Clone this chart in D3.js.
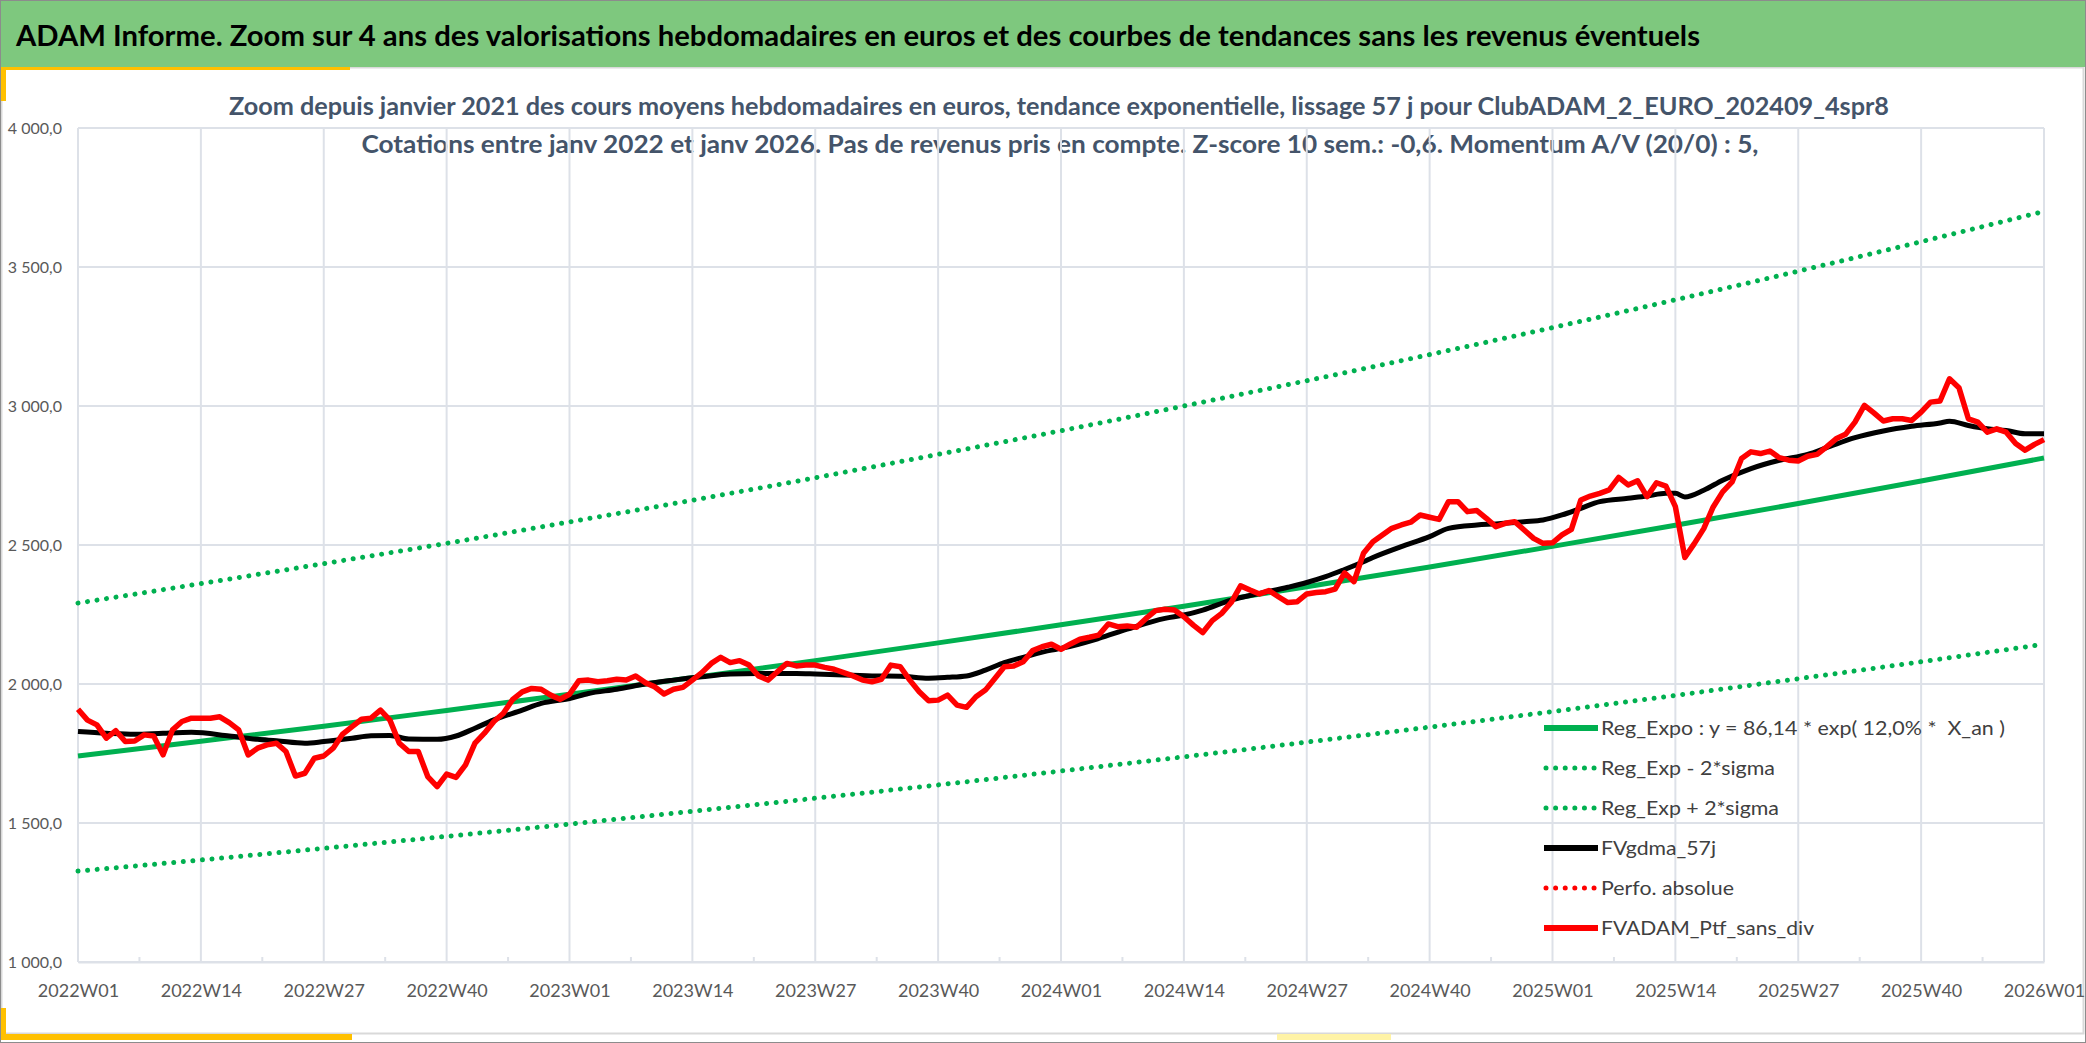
<!DOCTYPE html>
<html>
<head>
<meta charset="utf-8">
<script src="https://cdn.jsdelivr.net/npm/d3@7"></script>
<style>
body { margin: 0; background: #fff; }
svg text { font-family: Lato, "Open Sans", sans-serif; }
</style>
</head>
<body>
<div id="chart"></div>
<script>
var width = 2086;
var height = 1043;
var margin = {left: 78, right: 42, top: 128, bottom: 81};

// x axis labels, one every 13 weeks
const weekLabels = ["2022W01","2022W14","2022W27","2022W40","2023W01","2023W14","2023W27","2023W40",
  "2024W01","2024W14","2024W27","2024W40","2025W01","2025W14","2025W27","2025W40","2026W01"];
const yTicks = [1000, 1500, 2000, 2500, 3000, 3500, 4000];

// trend + bands, read at each gridline (week index)
const bandWeeks = [0,13,26,39,52,65,78,91,104,117,130,143,156,169,182,195,208];
const trendValues = [1741,1794,1848,1905,1963,2023,2084,2148,2213,2280,2350,2421,2495,2571,2649,2730,2813];
const lowerValues = [1327,1367,1409,1452,1496,1542,1589,1637,1687,1738,1791,1845,1901,1959,2019,2080,2143];
const upperValues = [2291,2361,2433,2506,2583,2661,2742,2826,2911,3000,3091,3185,3282,3382,3485,3591,3700];

// FVgdma_57j (smoothed)
const gdmaWeeks = [0,3,6,9,12,16,19,21,24,26,29,31,33,35,38,40,42,44,47,49,52,54,57,60,63,66,69,72,76,78,81,84,87,90,92,94,96,98,100,103,104,108,111,115,117,119,122,125,128,130,132,134,136,137,140,143,145,148,150,153,155,157,159,161,164,166,168,169,170,172,174,177,180,183,185,188,191,194,197,198,200,202,204,206,208];
const gdmaValues = [1829,1823,1819,1823,1826,1813,1801,1796,1787,1793,1805,1814,1815,1802,1801,1813,1841,1871,1906,1930,1948,1966,1981,2000,2014,2026,2036,2038,2038,2036,2032,2029,2028,2021,2024,2029,2050,2077,2096,2122,2128,2164,2197,2236,2248,2266,2302,2326,2348,2365,2386,2412,2440,2455,2494,2530,2560,2572,2576,2584,2590,2608,2632,2656,2668,2676,2686,2686,2673,2697,2733,2775,2805,2826,2850,2886,2910,2927,2939,2945,2930,2918,2912,2900,2900];

// FVADAM_Ptf_sans_div, weekly from 2022W01
const ptfValues = [1909,1870,1853,1805,1832,1793,1795,1817,1813,1745,
  1835,1865,1877,1877,1877,1882,1861,1835,1745,1769,
  1781,1787,1757,1669,1679,1733,1741,1769,1820,1847,
  1873,1877,1906,1870,1787,1757,1757,1667,1631,1676,
  1664,1709,1787,1823,1865,1895,1945,1972,1984,1981,
  1960,1945,1963,2012,2014,2008,2012,2017,2014,2029,
  2005,1990,1964,1981,1988,2014,2041,2074,2096,2077,
  2084,2068,2029,2014,2044,2074,2065,2068,2068,2060,
  2053,2041,2029,2014,2008,2017,2068,2062,2014,1972,
  1940,1942,1960,1924,1916,1954,1978,2020,2062,2065,
  2080,2120,2134,2143,2125,2144,2161,2168,2176,2216,
  2206,2209,2204,2236,2264,2269,2266,2242,2212,2185,
  2228,2254,2293,2353,2338,2324,2336,2314,2293,2296,
  2324,2329,2332,2341,2400,2368,2470,2512,2536,2560,
  2572,2582,2608,2600,2592,2656,2656,2620,2624,2596,
  2566,2578,2584,2554,2524,2506,2508,2536,2556,2662,
  2676,2686,2698,2743,2716,2731,2674,2724,2712,2638,
  2455,2505,2559,2637,2691,2727,2811,2835,2829,2838,
  2814,2805,2802,2819,2826,2853,2882,2898,2942,3002,
  2975,2946,2954,2954,2948,2978,3014,3018,3098,3066,
  2954,2942,2906,2918,2906,2865,2841,2862,2879];

const legendLabels = ["Reg_Expo : y = 86,14 * exp( 12,0% *  X_an )", "Reg_Exp - 2*sigma", "Reg_Exp + 2*sigma",
  "FVgdma_57j", "Perfo. absolue", "FVADAM_Ptf_sans_div"];

const green = "#00b050", red = "#ff0000", grid = "#dde1e8", txt = "#595959";

const x = d3.scaleLinear().domain([0, 208]).range([margin.left, width - margin.right]);
const y = d3.scaleLinear().domain([1000, 4000]).range([height - margin.bottom, margin.top]);

const svg = d3.select("#chart").append("svg")
    .attr("width", width)
    .attr("height", height);

svg.append("rect").attr("width", width).attr("height", height).attr("fill", "#fff");

// chart area frame
svg.append("rect")
    .attr("x", 1.5).attr("y", 67.5).attr("width", width - 4).attr("height", 966)
    .attr("fill", "none").attr("stroke", "#d9d9d9").attr("stroke-width", 2);

// header band
svg.append("rect").attr("x", 0).attr("y", 0).attr("width", width).attr("height", 67)
    .attr("fill", "#7ec87e");
svg.append("text")
    .attr("x", 16).attr("y", 46)
    .attr("font-size", 28).attr("font-weight", "bold").attr("fill", "#000")
    .attr("textLength", 1684).attr("lengthAdjust", "spacingAndGlyphs")
    .text("ADAM Informe. Zoom sur 4 ans des valorisations hebdomadaires en euros et des courbes de tendances sans les revenus éventuels");

// yellow accents
svg.append("rect").attr("x", 0).attr("y", 67).attr("width", 350).attr("height", 3).attr("fill", "#ffc000");
svg.append("rect").attr("x", 0).attr("y", 67).attr("width", 6).attr("height", 34).attr("fill", "#ffc000");
svg.append("rect").attr("x", 0).attr("y", 1008).attr("width", 6).attr("height", 32).attr("fill", "#ffc000");
svg.append("rect").attr("x", 0).attr("y", 1034).attr("width", 352).attr("height", 6).attr("fill", "#ffc000");
svg.append("rect").attr("x", 1277).attr("y", 1034).attr("width", 114).attr("height", 6).attr("fill", "#fff3a6");

// outer border
svg.append("rect").attr("x", 0.5).attr("y", 0.5).attr("width", width - 1).attr("height", height - 1)
    .attr("fill", "none").attr("stroke", "#8c8c8c");

// subtitle
svg.append("text")
    .attr("x", 1059).attr("y", 115).attr("text-anchor", "middle")
    .attr("font-size", 24).attr("font-weight", "bold").attr("fill", "#44546a")
    .attr("textLength", 1660).attr("lengthAdjust", "spacingAndGlyphs")
    .text("Zoom depuis janvier 2021 des cours moyens hebdomadaires en euros, tendance exponentielle, lissage 57 j pour ClubADAM_2_EURO_202409_4spr8");
svg.append("text")
    .attr("x", 1060).attr("y", 153).attr("text-anchor", "middle")
    .attr("font-size", 24).attr("font-weight", "bold").attr("fill", "#44546a")
    .attr("textLength", 1397).attr("lengthAdjust", "spacingAndGlyphs")
    .text("Cotations entre janv 2022 et janv 2026. Pas de revenus pris en compte. Z-score 10 sem.: -0,6. Momentum A/V (20/0) : 5,");

// gridlines
const plot = svg.append("g");
plot.selectAll(".hgrid").data(yTicks).enter().append("line")
    .attr("x1", x(0)).attr("x2", x(208))
    .attr("y1", d => y(d)).attr("y2", d => y(d))
    .attr("stroke", grid).attr("stroke-width", 2);
plot.selectAll(".vgrid").data(bandWeeks).enter().append("line")
    .attr("x1", d => x(d)).attr("x2", d => x(d))
    .attr("y1", y(4000)).attr("y2", y(1000))
    .attr("stroke", grid).attr("stroke-width", 2);
// small ticks between labels
plot.selectAll(".mtick").data(bandWeeks.slice(0, -1)).enter().append("line")
    .attr("x1", d => x(d + 6.5)).attr("x2", d => x(d + 6.5))
    .attr("y1", y(1000) - 5).attr("y2", y(1000))
    .attr("stroke", grid).attr("stroke-width", 2);

// axes
const xAxis = d3.axisBottom(x).tickValues(bandWeeks).tickSize(0).tickPadding(22)
    .tickFormat((d, i) => weekLabels[i]);
svg.append("g").attr("transform", "translate(0," + y(1000) + ")").call(xAxis)
    .call(g => g.select(".domain").attr("stroke", grid).attr("stroke-width", 2))
    .selectAll("text").attr("font-size", 18).attr("fill", txt).attr("font-family", "Lato");

const yAxis = d3.axisLeft(y).tickValues(yTicks).tickSize(0).tickPadding(16)
    .tickFormat(d => d3.format(",.1f")(d).replace(",", " ").replace(".", ","));
svg.append("g").attr("transform", "translate(" + x(0) + ",0)").call(yAxis)
    .call(g => g.select(".domain").remove())
    .selectAll("text").attr("font-size", 16).attr("fill", txt).attr("font-family", "Lato");

// series
const bandLine = d3.line().x(d => x(d[0])).y(d => y(d[1])).curve(d3.curveMonotoneX);
const dotted = "0.01 9.6";

plot.append("path").datum(bandWeeks.map((w, i) => [w, upperValues[i]]))
    .attr("d", bandLine).attr("fill", "none").attr("stroke", green)
    .attr("stroke-width", 5).attr("stroke-linecap", "round").attr("stroke-dasharray", dotted);
plot.append("path").datum(bandWeeks.map((w, i) => [w, lowerValues[i]]))
    .attr("d", bandLine).attr("fill", "none").attr("stroke", green)
    .attr("stroke-width", 5).attr("stroke-linecap", "round").attr("stroke-dasharray", dotted);
plot.append("path").datum(bandWeeks.map((w, i) => [w, trendValues[i]]))
    .attr("d", bandLine).attr("fill", "none").attr("stroke", green).attr("stroke-width", 5);

plot.append("path").datum(gdmaWeeks.map((w, i) => [w, gdmaValues[i]]))
    .attr("d", bandLine).attr("fill", "none").attr("stroke", "#000").attr("stroke-width", 5)
    .attr("stroke-linejoin", "round");

plot.append("path").datum(ptfValues.map((v, i) => [i, v]))
    .attr("d", d3.line().x(d => x(d[0])).y(d => y(d[1])))
    .attr("fill", "none").attr("stroke", red).attr("stroke-width", 5.5)
    .attr("stroke-linejoin", "round");

// legend
const legendStyles = [
  {stroke: green, dash: null},
  {stroke: green, dash: dotted},
  {stroke: green, dash: dotted},
  {stroke: "#000", dash: null},
  {stroke: red, dash: dotted},
  {stroke: red, dash: null}
];
const legendWidths = [404, 174, 178, 115, 133, 213];
const legend = svg.append("g").attr("transform", "translate(1544,728)");
const rows = legend.selectAll("g").data(legendLabels).enter().append("g")
    .attr("transform", (d, i) => "translate(0," + i * 40 + ")");
rows.append("line")
    .attr("x1", (d, i) => legendStyles[i].dash ? 2 : 0).attr("x2", 54)
    .attr("y1", 0).attr("y2", 0)
    .attr("stroke", (d, i) => legendStyles[i].stroke)
    .attr("stroke-width", (d, i) => legendStyles[i].dash ? 5 : 6)
    .attr("stroke-linecap", (d, i) => legendStyles[i].dash ? "round" : "butt")
    .attr("stroke-dasharray", (d, i) => legendStyles[i].dash);
rows.append("text")
    .attr("x", 57).attr("y", 7)
    .attr("font-size", 20).attr("fill", "#404040")
    .style("white-space", "pre")
    .attr("textLength", (d, i) => legendWidths[i]).attr("lengthAdjust", "spacingAndGlyphs")
    .text(d => d);
</script>
</body>
</html>
